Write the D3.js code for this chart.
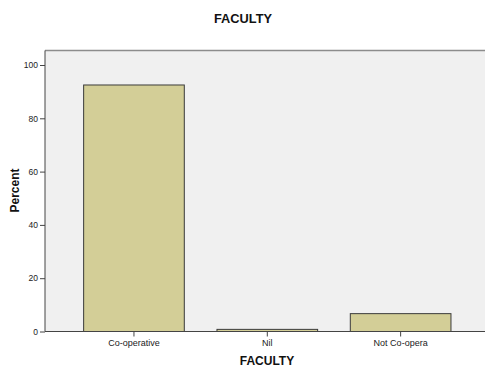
<!DOCTYPE html>
<html><head><meta charset="utf-8">
<script src="https://cdn.jsdelivr.net/npm/d3@7"></script>
<style>body{margin:0;background:#fff}svg{display:block}text{font-family:"Liberation Sans",Arial,sans-serif}</style>
</head><body><svg id="c" width="485" height="367"></svg>
<script>
const categories = ["Co-operative", "Nil", "Not Co-opera"];
const percents = [92.5, 0.8, 6.7];
const yTicks = [0, 20, 40, 60, 80, 100];
const chartTitle = "FACULTY";
const xTitle = "FACULTY";
const yTitle = "Percent";

const svg = d3.select("#c");
const plot = {left: 45, top: 50.5, right: 490, bottom: 331.5};
const x = d3.scaleBand().domain(categories).range([67.3, 467.3]).paddingInner(0.245).paddingOuter(0.1225);
const y = d3.scaleLinear().domain([0, 100]).range([331.5, 65]);

svg.append("rect").attr("x", plot.left).attr("y", plot.top).attr("width", plot.right - plot.left).attr("height", plot.bottom - plot.top).attr("fill", "#f0f0f0");
svg.append("line").attr("x1", plot.left).attr("x2", plot.right).attr("y1", plot.top).attr("y2", plot.top).attr("stroke", "#8c8c8c").attr("stroke-width", 1.5);

svg.selectAll("rect.bar").data(percents).enter().append("rect").attr("class", "bar")
  .attr("x", (d, i) => x(categories[i]))
  .attr("width", x.bandwidth())
  .attr("y", d => y(d))
  .attr("height", d => y(0) - y(d))
  .attr("fill", "#d3ce97").attr("stroke", "#3a3a3a").attr("stroke-width", 1);

const ya = svg.append("g").attr("transform", `translate(${plot.left},0)`)
  .call(d3.axisLeft(y).tickValues(yTicks).tickSize(5).tickSizeOuter(0).tickPadding(2));
ya.select(".domain").attr("d", `M0,${plot.top}V${plot.bottom}`).attr("stroke", "#444");
ya.selectAll(".tick line").attr("stroke", "#444");
ya.selectAll(".tick text").attr("font-size", 8.5).attr("fill", "#222").style("font-family", "'Liberation Sans',Arial,sans-serif");

const xa = svg.append("g").attr("transform", `translate(0,${plot.bottom})`)
  .call(d3.axisBottom(x).tickSize(5).tickSizeOuter(0).tickPadding(3));
xa.select(".domain").attr("d", `M${plot.left},0H${plot.right}`).attr("stroke", "#444");
xa.selectAll(".tick line").attr("stroke", "#444");
xa.selectAll(".tick text").attr("font-size", 9).attr("fill", "#222").style("font-family", "'Liberation Sans',Arial,sans-serif");

svg.append("text").attr("x", 243).attr("y", 23).attr("text-anchor", "middle").attr("font-size", 12.8).attr("font-weight", "bold").attr("fill", "#111").text(chartTitle);
svg.append("text").attr("x", 267).attr("y", 365).attr("text-anchor", "middle").attr("font-size", 12).attr("font-weight", "bold").attr("fill", "#111").text(xTitle);
svg.append("text").attr("transform", "translate(19,190.5) rotate(-90)").attr("text-anchor", "middle").attr("font-size", 12).attr("font-weight", "bold").attr("fill", "#111").text(yTitle);
</script></body></html>
